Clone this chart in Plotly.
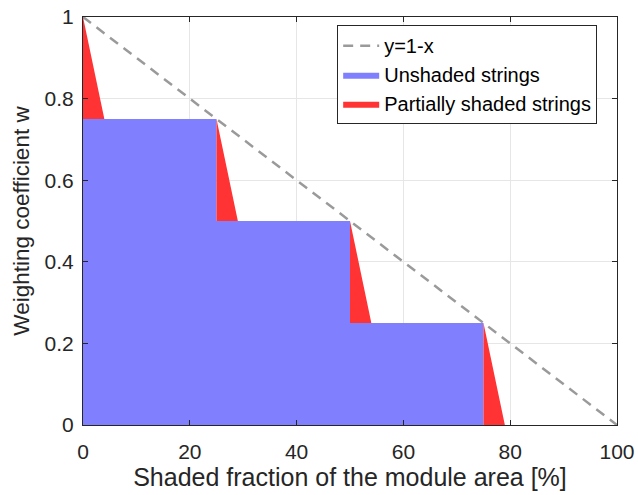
import plotly.graph_objects as go

# Data
step_starts = [0, 25, 50, 75]          # shaded fraction [%] where each step begins
step_tops = [1.0, 0.75, 0.5, 0.25]     # weighting before the step
step_levels = [0.75, 0.5, 0.25, 0.0]   # weighting after the step
drop_width = 4                          # width of the partially shaded transition [%]
line_x = [0, 100]
line_y = [1, 0]

# Unshaded polygon (step function area)
bx = [0]
by = [0]
for i, s in enumerate(step_starts):
    bx += [s, s + (step_starts[i + 1] - s if i + 1 < len(step_starts) else 0)]
    by += [step_levels[i], step_levels[i]]
bx += [0]
by += [0]

# Partially shaded triangles
rx, ry = [], []
for s, t, l in zip(step_starts, step_tops, step_levels):
    rx += [s, s, s + drop_width, s, None]
    ry += [t, l, l, t, None]

fig = go.Figure()
fig.add_trace(go.Scatter(x=line_x, y=line_y, mode="lines", name="y=1-x",
                         line=dict(color="#9a9a9a", width=2.5, dash="10px,7px")))
fig.add_trace(go.Scatter(x=bx, y=by, mode="lines", fill="toself", name="Unshaded strings",
                         fillcolor="rgb(128,128,255)", line=dict(width=0, color="rgb(128,128,255)")))
fig.add_trace(go.Scatter(x=rx, y=ry, mode="lines", fill="toself", name="Partially shaded strings",
                         fillcolor="rgb(255,51,51)", line=dict(width=0, color="rgb(255,51,51)")))

axis_common = dict(showline=True, linecolor="#262626", linewidth=1, mirror="ticks",
                   ticks="inside", ticklen=5, tickcolor="#262626", showgrid=True,
                   gridcolor="#e6e6e6", gridwidth=1, zeroline=False, automargin=False,
                   tickfont=dict(family="Liberation Sans, Arial", size=21, color="#262626"))

fig.update_layout(
    width=638, height=495,
    margin=dict(l=83, r=21, t=17, b=70),
    paper_bgcolor="white", plot_bgcolor="white",
    font=dict(family="Liberation Sans, Arial", color="#262626"),
    xaxis=dict(range=[0, 100], tickvals=[0, 20, 40, 60, 80, 100], ticklabelstandoff=8,
               title=dict(text="Shaded fraction of the module area [%]", font=dict(size=25), standoff=4),
               **axis_common),
    yaxis=dict(range=[0, 1], tickvals=[0, 0.2, 0.4, 0.6, 0.8, 1], ticktext=["0", "0.2", "0.4", "0.6", "0.8", "1"],
               ticklabelstandoff=4,
               title=dict(text="Weighting coefficient w", font=dict(size=22.5), standoff=8),
               **axis_common),
    legend=dict(x=0.476, y=0.98, xanchor="left", yanchor="top",
                bgcolor="white", bordercolor="#262626", borderwidth=1,
                font=dict(size=20, color="#000000"), tracegroupgap=0,
                itemwidth=36),
    showlegend=True,
)
fig.update_xaxes(layer="above traces")
fig.update_yaxes(layer="above traces")

fig.write_html("out.html")
